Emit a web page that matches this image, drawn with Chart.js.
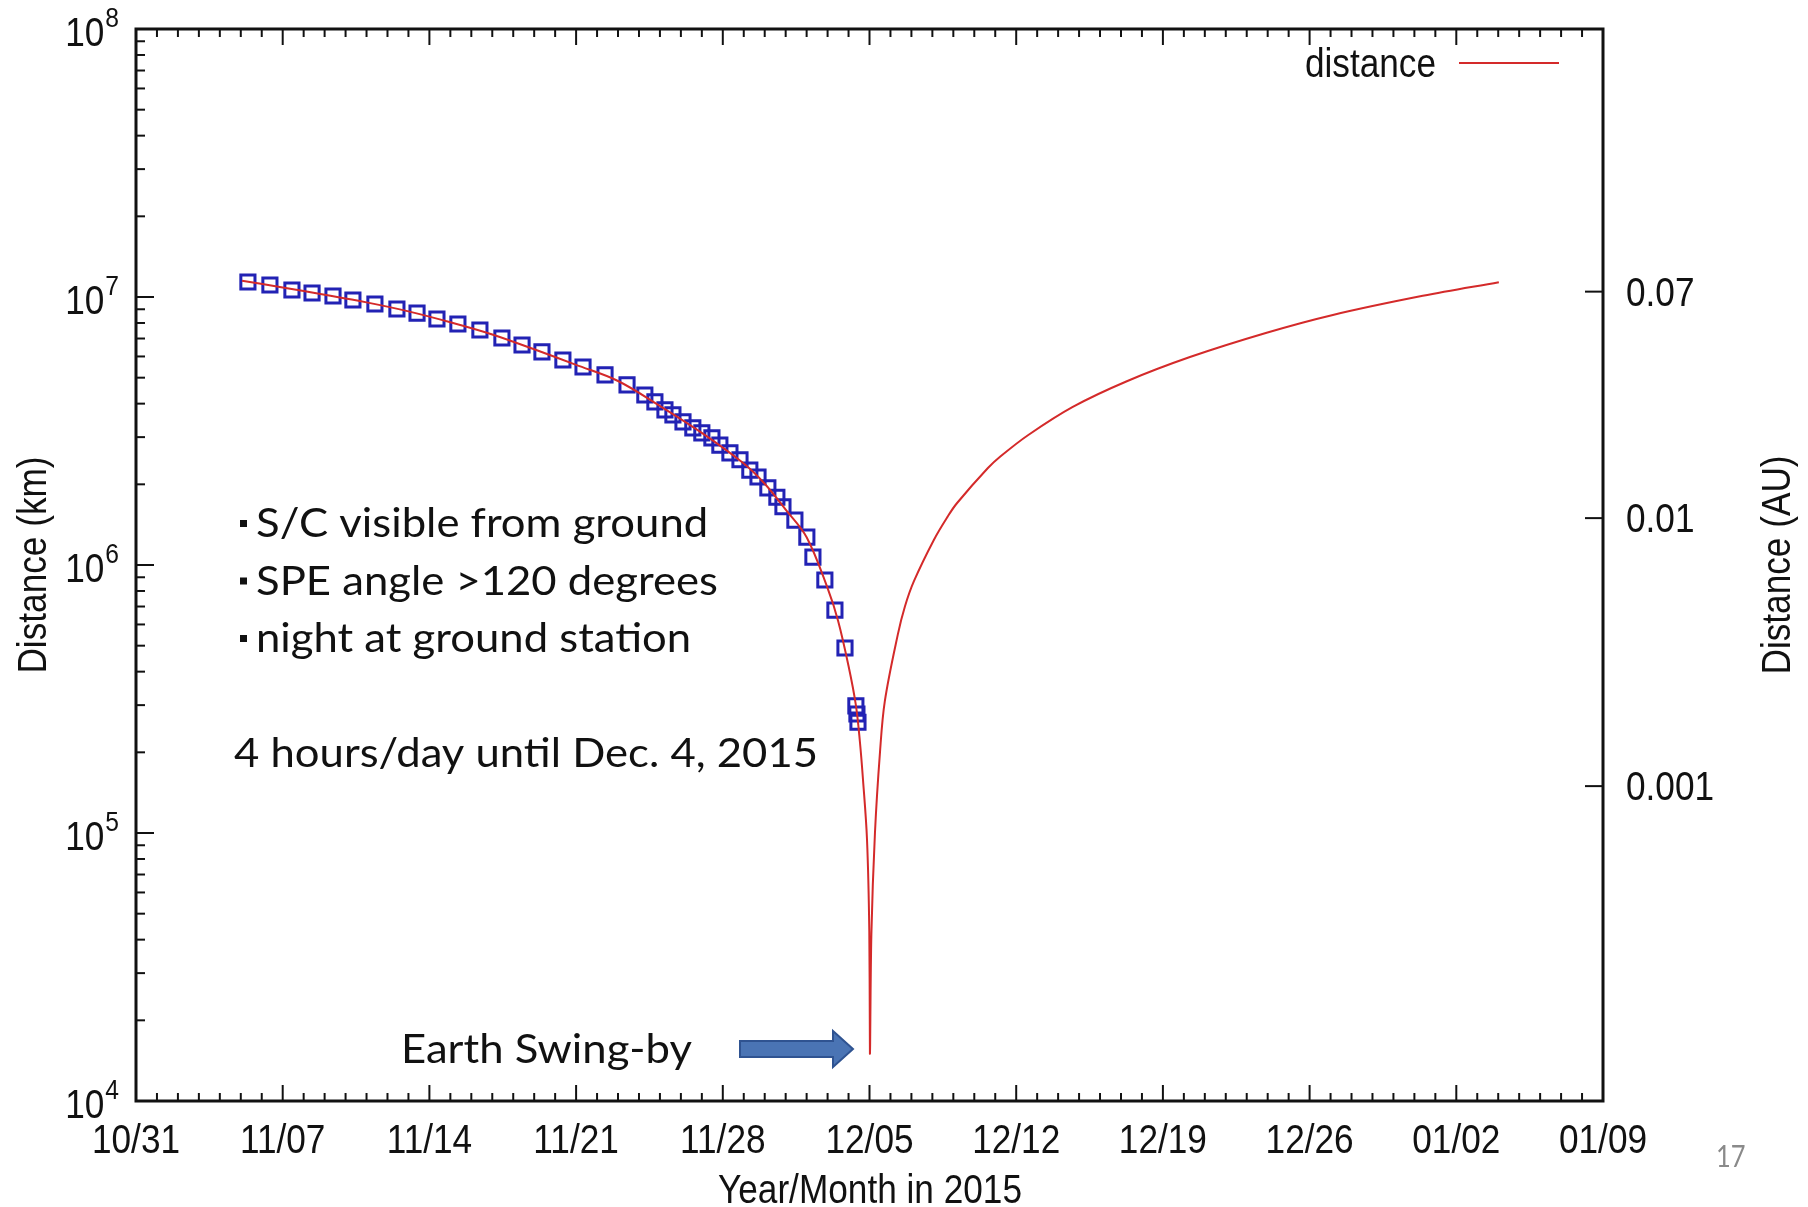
<!DOCTYPE html>
<html>
<head>
<meta charset="utf-8">
<script src="https://cdn.jsdelivr.net/npm/chart.js@4/dist/chart.umd.min.js"></script>
<style>
  html, body { margin: 0; padding: 0; background: #fff; }
  #wrap { width: 1808px; height: 1207px; }
</style>
</head>
<body>
<div id="wrap"><canvas id="distChart" width="1808" height="1207"></canvas></div>
<script>
// x values are days counted from 10/31/2015
const xTickDays = [0, 7, 14, 21, 28, 35, 42, 49, 56, 63, 70];
const xTickLabels = ['10/31', '11/07', '11/14', '11/21', '11/28', '12/05', '12/12', '12/19', '12/26', '01/02', '01/09'];
const yExponents = [4, 5, 6, 7, 8];
const auTicks = [0.07, 0.01, 0.001];
const auTickLabels = ['0.07', '0.01', '0.001'];
const AU_KM = 1.496e8;

// red curve: distance (km)
const lineDays = [5.06, 7, 9, 11, 13, 15, 17, 19, 21, 23, 25, 27, 29, 30, 31, 32, 33, 33.5, 34, 34.35,
  34.54, 34.69, 34.88, 34.99, 35.02, 35.09, 35.26, 35.5, 35.73, 36.35, 36.69, 37.12, 38.07, 38.74,
  39.17, 40.65, 41.27, 42.56, 44.7, 47.28, 50.29, 53.91, 57.11, 61.4, 65.03];
const lineKm = [1.15e7, 1.085e7, 1.02e7, 9.55e6, 8.84e6, 8.05e6, 7.25e6, 6.38e6, 5.58e6, 4.86e6, 3.92e6,
  3.11e6, 2.39e6, 2.01e6, 1.61e6, 1.27e6, 8.2e5, 6.2e5, 4.2e5, 3.0e5,
  2.2e5, 1.58e5, 9.5e4, 4.3e4, 1.5e4, 4.2e4, 1.0e5, 2.0e5, 3.1e5, 5.5e5, 7.0e5, 8.7e5, 1.24e6, 1.52e6,
  1.70e6, 2.30e6, 2.55e6, 3.05e6, 3.89e6, 4.85e6, 5.97e6, 7.34e6, 8.57e6, 1.01e7, 1.135e7];

// blue squares: visible passes
const passDays = [5.34, 6.39, 7.44, 8.40, 9.40, 10.35, 11.40, 12.45, 13.41, 14.36, 15.36, 16.41, 17.46,
  18.42, 19.37, 20.37, 21.33, 22.38, 23.43, 24.28, 24.76, 25.24, 25.62, 26.10, 26.57, 27.00, 27.48,
  27.86, 28.34, 28.82, 29.29, 29.68, 30.15, 30.58, 30.87, 31.44, 32.01, 32.30, 32.87, 33.35, 33.83,
  34.35, 34.40, 34.45];
const passKm = [1.138e7, 1.109e7, 1.062e7, 1.035e7, 1.009e7, 9.75e6, 9.42e6, 9.02e6, 8.71e6, 8.28e6,
  7.93e6, 7.53e6, 7.03e6, 6.62e6, 6.24e6, 5.82e6, 5.48e6, 5.12e6, 4.70e6, 4.31e6, 4.06e6, 3.79e6,
  3.63e6, 3.42e6, 3.25e6, 3.11e6, 2.98e6, 2.80e6, 2.62e6, 2.47e6, 2.26e6, 2.13e6, 1.94e6, 1.79e6,
  1.65e6, 1.47e6, 1.27e6, 1.07e6, 8.79e5, 6.79e5, 4.90e5, 2.98e5, 2.78e5, 2.59e5];

const bulletNotes = ['S/C visible from ground', 'SPE angle >120 degrees', 'night at ground station'];
const periodNote = '4 hours/day until Dec. 4, 2015';
const swingbyNote = 'Earth Swing-by';

const GP_FONT = '"Liberation Sans", Arial, sans-serif';
const PPT_FONT = 'Lato, "Open Sans", sans-serif';

function squeeze(ctx, str, x, y, sx, align, rot) {
  ctx.save();
  ctx.translate(x, y);
  if (rot) ctx.rotate(rot);
  ctx.scale(sx, 1);
  ctx.textAlign = align;
  ctx.fillText(str, 0, 0);
  ctx.restore();
}

function seg(ctx, x1, y1, x2, y2) {
  ctx.beginPath();
  ctx.moveTo(x1, y1);
  ctx.lineTo(x2, y2);
  ctx.stroke();
}

const gnuplotFrame = {
  id: 'gnuplotFrame',
  beforeDatasetsDraw(chart) {
    const { ctx, chartArea: a, scales: { x, y, y2 } } = chart;
    ctx.save();
    ctx.strokeStyle = '#111';
    ctx.lineWidth = 2;
    // daily ticks bottom and top, weekly ones longer
    for (let d = x.min; d <= x.max; d++) {
      const px = x.getPixelForValue(d);
      const len = xTickDays.includes(d) ? 16 : 8;
      seg(ctx, px, a.bottom, px, a.bottom - len);
      seg(ctx, px, a.top, px, a.top + len);
    }
    // log ticks on the left
    yExponents.forEach(e => {
      for (let m = 1; m <= 9; m++) {
        const v = m * Math.pow(10, e);
        if (v > y.max) break;
        const py = y.getPixelForValue(v);
        seg(ctx, a.left, py, a.left + (m === 1 ? 18 : 9), py);
      }
    });
    // AU ticks on the right
    auTicks.forEach(v => {
      const py = y2.getPixelForValue(v);
      seg(ctx, a.right, py, a.right - 18, py);
    });
    ctx.lineWidth = 3;
    ctx.strokeRect(a.left, a.top, a.right - a.left, a.bottom - a.top);
    ctx.restore();
  },
  afterDraw(chart) {
    const { ctx, chartArea: a, scales: { x, y, y2 } } = chart;
    const sx = 0.88;
    ctx.save();
    ctx.fillStyle = '#111';
    ctx.textBaseline = 'alphabetic';

    // x tick labels
    ctx.font = '40px ' + GP_FONT;
    xTickDays.forEach((d, i) => {
      squeeze(ctx, xTickLabels[i], x.getPixelForValue(d), a.bottom + 52, sx, 'center');
    });

    // left labels 10^n
    yExponents.forEach(e => {
      const py = y.getPixelForValue(Math.pow(10, e));
      ctx.font = '28px ' + GP_FONT;
      const supW = ctx.measureText(String(e)).width * sx;
      squeeze(ctx, String(e), 119, py - 2, sx, 'right');
      ctx.font = '40px ' + GP_FONT;
      squeeze(ctx, '10', 119 - supW - 1, py + 17, sx, 'right');
    });

    // right AU labels
    ctx.font = '40px ' + GP_FONT;
    auTicks.forEach((v, i) => {
      squeeze(ctx, auTickLabels[i], a.right + 23, y2.getPixelForValue(v) + 14, sx, 'left');
    });

    // axis titles
    squeeze(ctx, 'Distance (km)', 46, 565, sx, 'center', -Math.PI / 2);
    squeeze(ctx, 'Distance (AU)', 1790, 565, sx, 'center', -Math.PI / 2);
    squeeze(ctx, 'Year/Month in 2015', 870, 1203, sx, 'center');

    // key
    squeeze(ctx, 'distance', 1436, 77, sx, 'right');
    ctx.strokeStyle = '#d42a2a';
    ctx.lineWidth = 2;
    seg(ctx, 1459, 63, 1559, 63);

    // slide annotations
    ctx.font = '40px ' + PPT_FONT;
    const psx = 584 / ctx.measureText(periodNote).width;
    bulletNotes.forEach((t, i) => {
      const base = 537 + i * 57.5;
      ctx.fillRect(240, base - 17, 7, 7);
      squeeze(ctx, t, 256, base, psx, 'left');
    });
    squeeze(ctx, periodNote, 234, 767, psx, 'left');
    squeeze(ctx, swingbyNote, 401, 1063, psx, 'left');

    // arrow to closest approach
    ctx.beginPath();
    ctx.moveTo(740, 1041);
    ctx.lineTo(833, 1041);
    ctx.lineTo(833, 1031);
    ctx.lineTo(853, 1049);
    ctx.lineTo(833, 1067);
    ctx.lineTo(833, 1057);
    ctx.lineTo(740, 1057);
    ctx.closePath();
    ctx.fillStyle = '#4a74b4';
    ctx.fill();
    ctx.strokeStyle = '#2f5391';
    ctx.lineWidth = 2;
    ctx.stroke();

    // slide number
    ctx.fillStyle = '#8a8a8a';
    ctx.font = '30px ' + PPT_FONT;
    squeeze(ctx, '17', 1716, 1167, 0.85, 'left');
    ctx.restore();
  }
};

new Chart(document.getElementById('distChart'), {
  type: 'line',
  data: {
    datasets: [
      {
        label: 'distance',
        data: lineDays.map((d, i) => ({ x: d, y: lineKm[i] })),
        borderColor: '#d42a2a',
        borderWidth: 2,
        pointRadius: 0,
        tension: 0.35,
        order: 0
      },
      {
        label: 'visible',
        data: passDays.map((d, i) => ({ x: d, y: passKm[i] })),
        showLine: false,
        pointStyle: 'rect',
        pointRadius: 10,
        pointBorderWidth: 3,
        pointBorderColor: '#2222b4',
        pointBackgroundColor: 'rgba(0,0,0,0)',
        order: 1
      }
    ]
  },
  options: {
    responsive: false,
    animation: false,
    layout: { padding: { left: 136, right: 205, top: 29, bottom: 106 } },
    plugins: { legend: { display: false }, tooltip: { enabled: false } },
    scales: {
      x: { type: 'linear', min: 0, max: 70, display: false },
      y: { type: 'logarithmic', min: 1e4, max: 1e8, display: false },
      y2: { type: 'logarithmic', position: 'right', min: 1e4 / AU_KM, max: 1e8 / AU_KM, display: false }
    }
  },
  plugins: [gnuplotFrame]
});
</script>
</body>
</html>
